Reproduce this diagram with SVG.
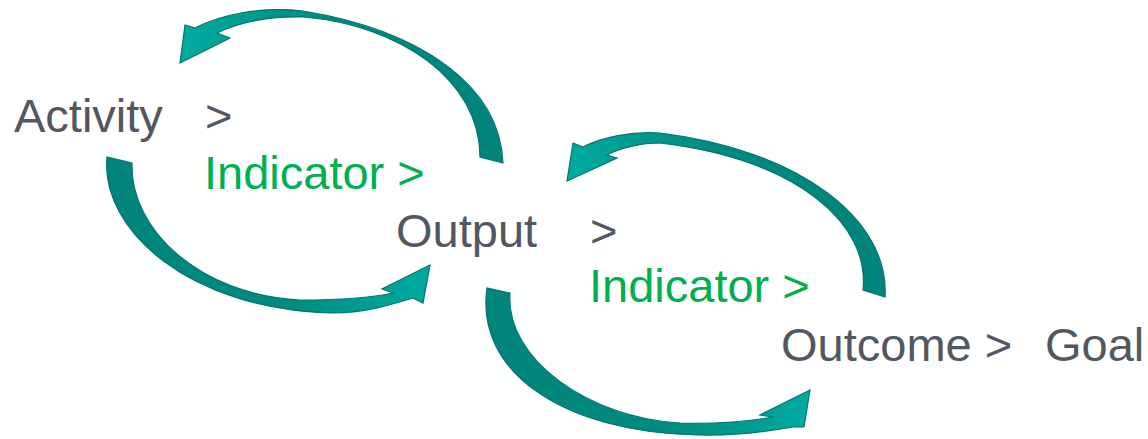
<svg xmlns="http://www.w3.org/2000/svg" width="1148" height="439" viewBox="0 0 1148 439">
<style>
  .t { font-family: "Liberation Sans", Arial, sans-serif; font-size: 47px; fill: #53575F; }
  .g { fill: #00B050; }
  .arr { stroke: #00766E; stroke-width: 1.2; stroke-linejoin: miter; }
</style>
<defs>
  <linearGradient id="gl" x1="1" y1="0" x2="0" y2="0">
    <stop offset="0" stop-color="#00847B"/>
    <stop offset="0.55" stop-color="#008A81"/>
    <stop offset="1" stop-color="#00ABA0"/>
  </linearGradient>
  <linearGradient id="gr" x1="0" y1="0" x2="1" y2="0">
    <stop offset="0" stop-color="#00847B"/>
    <stop offset="0.55" stop-color="#008A81"/>
    <stop offset="1" stop-color="#00ABA0"/>
  </linearGradient>
</defs>
<rect width="1148" height="439" fill="#FFFFFF"/>
<g id="connectors">
  <path class="arr" fill="url(#gl)" d="M 503,163 C 500,85 420,30 303,11 C 260,6 220,15 195,28 L 185,25 L 180,63 L 230,38 L 217,33 C 240,22 270,16 303,17 C 400,25 480,80 480,157 Z"/>
  <path class="arr" fill="url(#gr)" d="M 107,157 C 100,230 190,310 333,313 C 365,313 390,305 413,298 L 423,303 L 430,265 L 382,289 L 393,293 C 370,298 340,300 300,300 C 200,295 130,230 132,163 Z"/>
  <path class="arr" fill="url(#gl)" d="M 885,297 C 890,220 800,150 660,133 C 630,131 600,138 583,147 L 573,143 L 567,181 L 617,158 L 607,155 C 620,148 640,143 660,143 C 800,160 870,225 863,290 Z"/>
  <path class="arr" fill="url(#gr)" d="M 487,288 C 475,370 560,432 697,435 C 730,436 765,432 793,427 L 804,427 L 810,390 L 760,415 L 773,417 C 745,422 715,424 680,423 C 590,418 505,360 510,293 Z"/>
</g>
<g id="activity"><text class="t" x="14" y="132">Activity</text><text class="t" x="205" y="132">&gt;</text></g>
<g id="indicator1"><text class="t g" x="204" y="189">Indicator &gt;</text></g>
<g id="output"><text class="t" x="396" y="247">Output</text><text class="t" x="590" y="247">&gt;</text></g>
<g id="indicator2"><text class="t g" x="589" y="302">Indicator &gt;</text></g>
<g id="outcome"><text class="t" x="781" y="361">Outcome &gt;</text></g>
<g id="goal"><text class="t" x="1045" y="361">Goal</text></g>
</svg>
